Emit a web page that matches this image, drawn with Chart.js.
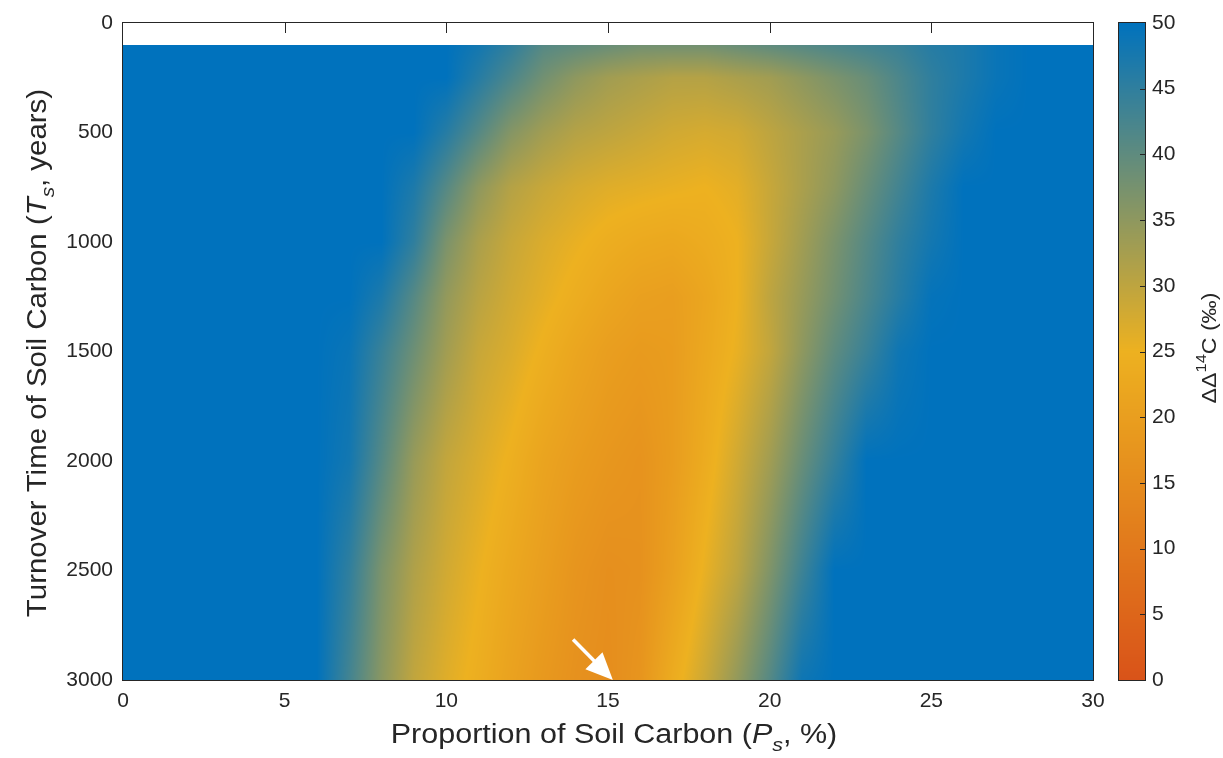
<!DOCTYPE html>
<html>
<head>
<meta charset="utf-8">
<script src="https://cdn.jsdelivr.net/npm/chart.js@4.4.1/dist/chart.umd.min.js"></script>
<style>
  html, body { margin: 0; padding: 0; background: #fff; }
</style>
</head>
<body>
<canvas id="chart" width="1223" height="758"></canvas>
<script>
// proportion of soil carbon (%) -> columns, turnover time (years) -> rows
const proportion = [0,1,2,3,4,5,6,7,8,9,10,11,12,13,14,15,16,17,18,19,20,21,22,23,24,25,26,27,28,29,30];
const turnover = [100, 250, 500, 750, 1000, 1250, 1500, 2000, 2500, 3000];

// ΔΔ14C (‰), one row per turnover time (values at or above 50 show as blue)
const dd_100  = [50,50,50,50,50,50,50,50,50,50,50,48,45,41,40,39,38,38,38,39,40,41,42,43,44,46,47,49,50,50,50];
const dd_250  = [50,50,50,50,50,50,50,50,50,50,50,46,42,38,35,33,32,31,31,32,33,35,37,39,42,45,47,49,50,50,50];
const dd_500  = [50,50,50,50,50,50,50,50,50,50,46,41,36,33,31,30,29,28,27.5,28,30,32,34,37,41,45,48,50,50,50,50];
const dd_750  = [50,50,50,50,50,50,50,50,50,47,41,35,31,29,27.5,26.5,26,25.5,25,26,29,32,35,39,43,47,50,50,50,50,50];
const dd_1000 = [50,50,50,50,50,50,50,50,50,45,37,32,29,27,25.5,24,23,22.5,23.5,25,29,33,37,41,45,48,50,50,50,50,50];
const dd_1250 = [50,50,50,50,50,50,50,50,47,41,34.5,30.5,28,26,24,22,20.5,20,22,25,30,34,38,42,46,49.5,50,50,50,50,50];
const dd_1500 = [50,50,50,50,50,50,50,49,44,38.5,33,29,27,24.5,22,20,19,19.5,22.5,25.5,29.5,35,40,44,48.5,50,50,50,50,50,50];
const dd_2000 = [50,50,50,50,50,50,50,48,41,34,29.5,27,24.5,21.5,19.5,18,17,19.5,23.5,28,33,39,44.5,50,50,50,50,50,50,50,50];
const dd_2500 = [50,50,50,50,50,50,50,45,37,31.5,28,25.3,22.5,20,17.5,16,16.5,20.5,25.5,30,36.5,43.5,50,50,50,50,50,50,50,50,50];
const dd_3000 = [50,50,50,50,50,50,50,43,35.5,29.7,26.5,24,21,18.5,16.5,15.5,17.5,23.5,28.5,34.5,41,48.5,50,50,50,50,50,50,50,50,50];
const grid = [dd_100, dd_250, dd_500, dd_750, dd_1000, dd_1250, dd_1500, dd_2000, dd_2500, dd_3000];

const xTicks = [0, 5, 10, 15, 20, 25, 30];
const yTicks = [0, 500, 1000, 1500, 2000, 2500, 3000];
const cbTicks = [0, 5, 10, 15, 20, 25, 30, 35, 40, 45, 50];
const cbRange = [0, 50];

// arrow marking P_s = 15 %
const arrowTail = {x: 13.92, y: 2815};
const arrowTip = {x: 15.15, y: 3000};

// colour map: orange-red -> yellow -> blue
const cmapStops = [0, 25, 50];
const cmapColors = [[217, 83, 25], [237, 177, 32], [0, 114, 189]];

const FONT = '"Liberation Sans", Arial, Helvetica, sans-serif';
const INK = '#262626';

function colorFor(v) {
  v = Math.max(cmapStops[0], Math.min(cmapStops[2], v));
  const i = v < cmapStops[1] ? 0 : 1;
  const t = (v - cmapStops[i]) / (cmapStops[i + 1] - cmapStops[i]);
  return cmapColors[i].map((c, k) => c + (cmapColors[i + 1][k] - c) * t);
}

function sample(p, yr) {
  const n = proportion.length;
  let fx = (p - proportion[0]) / (proportion[n - 1] - proportion[0]) * (n - 1);
  fx = Math.max(0, Math.min(n - 1.0001, fx));
  const i = Math.floor(fx), u = fx - i;
  let j = 0;
  while (j < turnover.length - 2 && yr > turnover[j + 1]) j++;
  let w = (yr - turnover[j]) / (turnover[j + 1] - turnover[j]);
  w = Math.max(0, Math.min(1, w));
  const r0 = grid[j][i] * (1 - u) + grid[j][i + 1] * u;
  const r1 = grid[j + 1][i] * (1 - u) + grid[j + 1][i + 1] * u;
  return r0 * (1 - w) + r1 * w;
}

// text made of runs (italic, sub/superscript), centred on x,y, optionally stretched along the line
function rich(ctx, parts, x, y, rot, stretch) {
  ctx.save();
  ctx.translate(x, y);
  ctx.rotate(rot);
  ctx.scale(stretch || 1, 1);
  ctx.textAlign = 'left';
  ctx.textBaseline = 'alphabetic';
  ctx.fillStyle = INK;
  let total = 0;
  parts.forEach(p => { ctx.font = p.font; p.w = ctx.measureText(p.text).width; total += p.w; });
  let cx = -total / 2;
  parts.forEach(p => { ctx.font = p.font; ctx.fillText(p.text, cx, p.dy || 0); cx += p.w; });
  ctx.restore();
}

// keep tick padding from pushing the plot area around
function fixBox(w, h) {
  return s => {
    if (w) s.width = w;
    if (h) s.height = h;
    s.paddingTop = 0; s.paddingBottom = 0; s.paddingLeft = 0; s.paddingRight = 0;
  };
}

const heatmap = {
  id: 'heatmap',
  beforeDatasetsDraw(chart) {
    const {ctx, scales: {x, y}} = chart;
    const top = Math.round(y.getPixelForValue(turnover[0]));
    const bottom = Math.round(y.getPixelForValue(turnover[turnover.length - 1]));
    const left = Math.round(x.getPixelForValue(proportion[0]));
    const right = Math.round(x.getPixelForValue(proportion[proportion.length - 1]));
    const w = right - left, h = bottom - top;
    const off = document.createElement('canvas');
    off.width = w; off.height = h;
    const octx = off.getContext('2d');
    const img = octx.createImageData(w, h);
    for (let r = 0; r < h; r++) {
      const yr = y.getValueForPixel(top + r + 0.5);
      for (let c = 0; c < w; c++) {
        const p = x.getValueForPixel(left + c + 0.5);
        const col = colorFor(sample(p, yr));
        const k = (r * w + c) * 4;
        img.data[k] = col[0]; img.data[k + 1] = col[1]; img.data[k + 2] = col[2]; img.data[k + 3] = 255;
      }
    }
    octx.putImageData(img, 0, 0);
    ctx.drawImage(off, left, top);

    // arrow
    const tx = x.getPixelForValue(arrowTail.x), ty = y.getPixelForValue(arrowTail.y);
    const hx = x.getPixelForValue(arrowTip.x), hy = y.getPixelForValue(arrowTip.y);
    const ang = Math.atan2(hy - ty, hx - tx);
    const headLen = 27, headHalf = 12;
    const bx = hx - headLen * Math.cos(ang), by = hy - headLen * Math.sin(ang);
    ctx.save();
    ctx.strokeStyle = '#fff';
    ctx.fillStyle = '#fff';
    ctx.lineWidth = 3.5;
    ctx.beginPath();
    ctx.moveTo(tx, ty);
    ctx.lineTo(bx + 4 * Math.cos(ang), by + 4 * Math.sin(ang));
    ctx.stroke();
    ctx.beginPath();
    ctx.moveTo(hx, hy);
    ctx.lineTo(bx - headHalf * Math.sin(ang), by + headHalf * Math.cos(ang));
    ctx.lineTo(bx + headHalf * Math.sin(ang), by - headHalf * Math.cos(ang));
    ctx.closePath();
    ctx.fill();
    ctx.restore();
  },
  afterDraw(chart) {
    const {ctx, chartArea: a, scales: {x, cb}} = chart;
    ctx.save();
    // axes box
    ctx.strokeStyle = INK;
    ctx.lineWidth = 1;
    ctx.strokeRect(a.left - 0.5, a.top - 0.5, a.right - a.left + 1, a.bottom - a.top + 1);
    // inward ticks along the top edge (visible in the empty band)
    ctx.beginPath();
    xTicks.slice(1, -1).forEach(v => {
      const px = Math.round(x.getPixelForValue(v)) + 0.5;
      ctx.moveTo(px, a.top);
      ctx.lineTo(px, a.top + 10);
    });
    ctx.stroke();

    // colour bar
    const cbL = a.right + 25, cbR = a.right + 53;
    for (let py = Math.round(cb.top); py < Math.round(cb.bottom); py++) {
      const col = colorFor(cb.getValueForPixel(py + 0.5));
      ctx.fillStyle = `rgb(${col[0]},${col[1]},${col[2]})`;
      ctx.fillRect(cbL, py, cbR - cbL, 1);
    }
    ctx.strokeStyle = INK;
    ctx.strokeRect(cbL + 0.5, cb.top - 0.5, cbR - cbL - 1, cb.bottom - cb.top + 1);
    ctx.beginPath();
    cbTicks.slice(1, -1).forEach(v => {
      const py = Math.round(cb.getPixelForValue(v)) + 0.5;
      ctx.moveTo(cbR, py);
      ctx.lineTo(cbR - 6, py);
    });
    ctx.stroke();
    ctx.restore();

    // titles
    const big = `27px ${FONT}`, bigI = `italic 27px ${FONT}`, subI = `italic 19px ${FONT}`;
    rich(ctx, [
      {text: 'Proportion of Soil Carbon (', font: big},
      {text: 'P', font: bigI},
      {text: 's', font: subI, dy: 8},
      {text: ', %)', font: big}
    ], 614, 743, 0, 1.13);
    rich(ctx, [
      {text: 'Turnover Time of Soil Carbon (', font: big},
      {text: 'T', font: bigI},
      {text: 's', font: subI, dy: 8},
      {text: ', years)', font: big}
    ], 46, 353, -Math.PI / 2, 1.09);
    rich(ctx, [
      {text: 'ΔΔ', font: `21px ${FONT}`},
      {text: '14', font: `15px ${FONT}`, dy: -10},
      {text: 'C (‰)', font: `21px ${FONT}`}
    ], 1216, 348, -Math.PI / 2, 1.1);
  }
};

const tickFont = {family: FONT, size: 21};
const plain = v => String(v);

new Chart(document.getElementById('chart'), {
  type: 'scatter',
  data: {datasets: [{data: [], pointRadius: 0}]},
  options: {
    responsive: false,
    animation: false,
    layout: {padding: {top: 23, left: 0, right: 0, bottom: 0}},
    plugins: {legend: {display: false}, tooltip: {enabled: false}},
    scales: {
      x: {
        type: 'linear', min: xTicks[0], max: xTicks[xTicks.length - 1],
        afterBuildTicks: s => { s.ticks = xTicks.map(v => ({value: v})); },
        grid: {display: false, drawTicks: false},
        border: {display: false},
        ticks: {padding: 9, color: INK, font: tickFont, maxRotation: 0, callback: plain},
        afterFit: fixBox(0, 78)
      },
      y: {
        type: 'linear', reverse: true, min: yTicks[0], max: yTicks[yTicks.length - 1],
        afterBuildTicks: s => { s.ticks = yTicks.map(v => ({value: v})); },
        grid: {display: false, drawTicks: false},
        border: {display: false},
        ticks: {padding: 10, color: INK, font: tickFont, callback: plain},
        afterFit: fixBox(123, 0)
      },
      cb: {
        type: 'linear', position: 'right', axis: 'y', min: cbRange[0], max: cbRange[1],
        afterBuildTicks: s => { s.ticks = cbTicks.map(v => ({value: v})); },
        grid: {display: false, drawTicks: false},
        border: {display: false},
        ticks: {padding: 59, color: INK, font: tickFont, callback: plain},
        afterFit: fixBox(130, 0)
      }
    }
  },
  plugins: [heatmap]
});
</script>
</body>
</html>
